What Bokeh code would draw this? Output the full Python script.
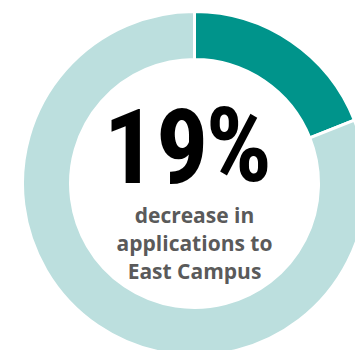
import numpy as np
from bokeh.plotting import figure
from bokeh.models import ColumnDataSource
from bokeh.core.properties import value
from bokeh.embed import file_html
from bokeh.resources import INLINE

# Share of applications: the decrease vs. the remainder of the ring
segments = ["Decrease", "Remainder"]
shares = [19, 81]
colors = ["#00948b", "#bcdfde"]

caption_lines = ["decrease in", "applications to", "East Campus"]

W, H = 355, 350
cx, cy = 194, H - 183
r_outer, r_inner = 172, 124

# Angles: start at 12 o'clock and run clockwise
fractions = np.array(shares, dtype=float) / sum(shares)
ends = np.pi / 2 - 2 * np.pi * np.cumsum(fractions)
starts = np.concatenate([[np.pi / 2], ends[:-1]])

src = ColumnDataSource(dict(
    segment=segments, share=shares, color=colors,
    start=starts, end=ends,
))

p = figure(width=W, height=H, x_range=(0, W), y_range=(0, H),
           output_backend="svg", toolbar_location=None,
           min_border=0, outline_line_color=None,
           background_fill_color="white", border_fill_color="white")
p.axis.visible = False
p.grid.visible = False

p.annular_wedge(x=cx, y=cy, inner_radius=r_inner, outer_radius=r_outer,
                start_angle="end", end_angle="start", direction="anticlock",
                fill_color="color", line_color="white", line_width=3,
                source=src)

# Headline figure: the number and its percent sign set tightly side by side
big_size = 104
big_y = H - 183 + 0.362 * big_size
big = dict(text_font=value("Roboto Condensed"), text_font_style="bold",
           text_font_size=f"{big_size}px", text_baseline="alphabetic",
           text_color="#000000")
p.text(x=[208], y=[big_y], text=[str(shares[0])], text_align="right", **big)
p.text(x=[205], y=[big_y], text=["%"], text_align="left", **big)

cap_size = 21
cap_shift = 0.362 * cap_size
p.text(x=[cx] * 3,
       y=[H - 222.5 + cap_shift, H - 250.5 + cap_shift, H - 278.5 + cap_shift],
       text=caption_lines,
       text_font=value("Open Sans"), text_font_style="bold",
       text_font_size=f"{cap_size}px", text_align="center",
       text_baseline="alphabetic", text_color="#5a5a5a")

open("out.html", "w").write(file_html(p, INLINE))
